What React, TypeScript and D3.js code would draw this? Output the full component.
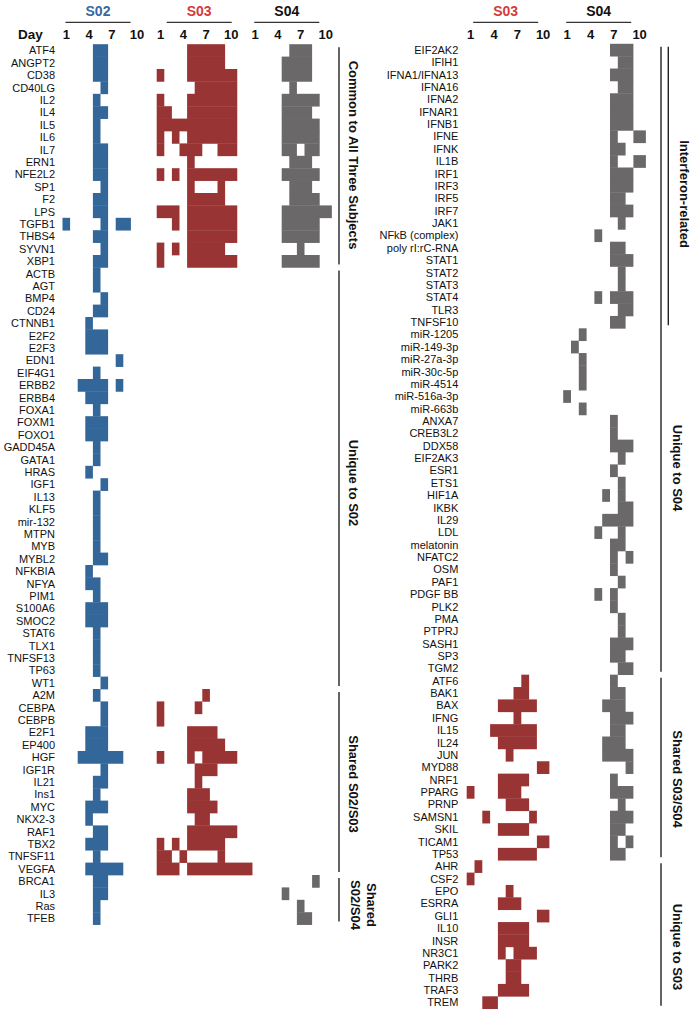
import React from "react";
import * as d3 from "d3";

// ---------------- DATA ----------------
const DAY_TICKS = [1, 4, 7, 10];

// Left panel groups
const COMMON_GENES = ["ATF4", "ANGPT2", "CD38", "CD40LG", "IL2", "IL4", "IL5", "IL6", "IL7", "ERN1", "NFE2L2", "SP1", "F2", "LPS", "TGFB1", "THBS4", "SYVN1", "XBP1"];
const COMMON_S02 = [[5, 6], [5, 6], [5, 6], [6], [5], [5, 6], [5], [5], [5, 6], [5, 6], [5, 6], [6], [5, 6], [5, 6], [1, 6, 8, 9], [5, 6], [6], [5, 6]];
const COMMON_S03 = [
  [5, 6, 7, 8, 9], [5, 6, 7, 8, 9], [1, 5, 6, 7, 8, 9, 10], [6, 7, 8, 9, 10], [1, 5, 6, 7, 8, 9, 10],
  [1, 2, 5, 6, 7, 8, 9, 10], [1, 2, 3, 4, 5, 6, 7, 8, 9, 10], [1, 3, 5, 6, 7, 8, 9, 10], [1, 4, 5, 6, 9, 10], [5],
  [1, 3, 5, 6, 7, 8, 9, 10], [5, 9], [5, 6, 7, 8, 9], [1, 2, 3, 5, 6, 7, 8, 9, 10], [3, 5, 6, 7, 8, 9, 10],
  [5, 6, 7, 8, 9, 10], [1, 3, 5, 6, 7, 8, 9], [1, 5, 6, 7, 8, 9, 10],
];
const COMMON_S04 = [
  [6, 7, 8], [5, 6, 7, 8], [5, 6, 7, 8], [6], [5, 6, 7, 8, 9], [5, 6, 7, 8], [5, 6, 7, 8, 9], [5, 6, 7, 8, 9], [5, 6, 8, 9],
  [6, 7, 8], [5, 6, 7, 8, 9], [6, 7, 8], [6, 7, 8, 9], [5, 6, 7, 8, 9, 10], [5, 6, 7, 8, 9], [5, 6, 7, 8, 9], [7], [5, 6, 7, 8, 9],
];

const UNIQUE_S02_GENES = ["ACTB", "AGT", "BMP4", "CD24", "CTNNB1", "E2F2", "E2F3", "EDN1", "EIF4G1", "ERBB2", "ERBB4", "FOXA1", "FOXM1", "FOXO1", "GADD45A", "GATA1", "HRAS", "IGF1", "IL13", "KLF5", "mir-132", "MTPN", "MYB", "MYBL2", "NFKBIA", "NFYA", "PIM1", "S100A6", "SMOC2", "STAT6", "TLX1", "TNFSF13", "TP63", "WT1"];
const UNIQUE_S02_S02 = [
  [5], [5], [6], [5, 6], [4], [4, 5, 6], [4, 5, 6], [8], [5], [3, 4, 5, 6, 8],
  [4, 5, 6], [5], [4, 5, 6], [4, 5, 6], [5], [5], [4], [6], [5], [5],
  [5], [5], [5], [5, 6], [4], [4, 5], [5], [4, 5, 6], [4, 5, 6], [5],
  [5], [5], [5], [6],
];

const SHARED_0203_GENES = ["A2M", "CEBPA", "CEBPB", "E2F1", "EP400", "HGF", "IGF1R", "IL21", "Ins1", "MYC", "NKX2-3", "RAF1", "TBX2", "TNFSF11", "VEGFA"];
const SHARED_0203_S02 = [[5], [6], [6], [4, 5, 6], [4, 5, 6], [3, 4, 5, 6, 7, 8], [6], [5, 6], [5], [4, 5, 6], [4], [5, 6], [4, 5, 6], [5], [4, 5, 6, 7, 8]];
const SHARED_0203_S03 = [[7], [1, 6], [1], [5, 6, 7, 8], [5, 6, 7, 8, 9], [1, 5, 7, 8, 9, 10], [6, 7, 8], [6], [5, 6, 7], [5, 6, 7, 8], [6, 7], [5, 6, 7, 8, 9, 10], [1, 3, 5, 6, 7, 8, 9], [1, 2, 4, 9], [1, 2, 3, 5, 6, 7, 8, 9, 10, 11]];

const SHARED_0204_GENES = ["BRCA1", "IL3", "Ras", "TFEB"];
const SHARED_0204_S02 = [[5, 6], [5, 6], [5], [5]];
const SHARED_0204_S04 = [[9], [5], [7], [7, 8]];

// Right panel groups
const INTERFERON_GENES = ["EIF2AK2", "IFIH1", "IFNA1/IFNA13", "IFNA16", "IFNA2", "IFNAR1", "IFNB1", "IFNE", "IFNK", "IL1B", "IRF1", "IRF3", "IRF5", "IRF7", "JAK1", "NFkB (complex)", "poly rI:rC-RNA", "STAT1", "STAT2", "STAT3", "STAT4", "TLR3", "TNFSF10"];
const INTERFERON_S04 = [[7, 8, 9], [8, 9], [7, 8, 9], [8, 9], [7, 8, 9], [7, 8, 9], [7, 8, 9], [7, 10], [7, 8], [7, 10], [7, 8, 9], [7, 8, 9], [7, 8], [7, 8, 9], [8], [5], [7, 8], [7, 8, 9], [8], [8], [5, 7, 8, 9], [8, 9], [7, 8]];

const UNIQUE_S04_GENES = ["miR-1205", "miR-149-3p", "miR-27a-3p", "miR-30c-5p", "miR-4514", "miR-516a-3p", "miR-663b", "ANXA7", "CREB3L2", "DDX58", "EIF2AK3", "ESR1", "ETS1", "HIF1A", "IKBK", "IL29", "LDL", "melatonin", "NFATC2", "OSM", "PAF1", "PDGF BB", "PLK2", "PMA", "PTPRJ", "SASH1", "SP3", "TGM2"];
const UNIQUE_S04_S04 = [[3], [2], [3], [3], [3], [1], [3], [7], [7], [7, 8, 9], [8], [7], [8], [6, 8], [8, 9], [6, 7, 8, 9], [5, 8], [7, 8], [7, 9], [7], [8], [5, 7], [7], [8], [8], [7, 8, 9], [7, 8], [8, 9]];

const SHARED_0304_GENES = ["ATF6", "BAK1", "BAX", "IFNG", "IL15", "IL24", "JUN", "MYD88", "NRF1", "PPARG", "PRNP", "SAMSN1", "SKIL", "TICAM1", "TP53"];
const SHARED_0304_S03 = [[8], [7, 8], [5, 6, 7, 8, 9], [7], [4, 5, 6, 7, 8, 9], [5, 6, 7, 8, 9], [6], [10], [5, 6, 7, 8], [1, 5, 6, 7], [6, 7, 8], [3, 9], [5, 6, 7, 8], [10], [5, 6, 7, 8, 9]];
const SHARED_0304_S04 = [[7], [7, 8], [6, 7, 8], [7, 8, 9], [7, 8], [6, 7, 8], [6, 7, 8, 9], [9], [7], [7, 8, 9], [8], [7, 8, 9], [7, 8], [7, 9], [7, 8]];

const UNIQUE_S03_GENES = ["AHR", "CSF2", "EPO", "ESRRA", "GLI1", "IL10", "INSR", "NR3C1", "PARK2", "THRB", "TRAF3", "TREM"];
const UNIQUE_S03_S03 = [[2], [1], [6], [5, 6, 7], [10], [5, 6, 7, 8], [5, 6, 7, 8], [5, 7, 8, 9], [6, 7], [6, 7], [5, 6, 7, 8], [3, 4]];

// ---------------- LAYOUT / STYLE ----------------
const FONT = '"Liberation Sans", Arial, Helvetica, sans-serif';
const CELL_COLORS: Record<string, string> = { S02: "#336699", S03: "#993434", S04: "#6b6869" };
const TITLE_COLORS: Record<string, string> = { S02: "#3569a5", S03: "#d43b3b", S04: "#111111" };

type Group = { key: string; genes: string[]; data: Record<string, number[][]> };

const LEFT_GROUPS: Group[] = [
  { key: "common", genes: COMMON_GENES, data: { S02: COMMON_S02, S03: COMMON_S03, S04: COMMON_S04 } },
  { key: "u02", genes: UNIQUE_S02_GENES, data: { S02: UNIQUE_S02_S02 } },
  { key: "s0203", genes: SHARED_0203_GENES, data: { S02: SHARED_0203_S02, S03: SHARED_0203_S03 } },
  { key: "s0204", genes: SHARED_0204_GENES, data: { S02: SHARED_0204_S02, S04: SHARED_0204_S04 } },
];
const RIGHT_GROUPS: Group[] = [
  { key: "ifn", genes: INTERFERON_GENES, data: { S04: INTERFERON_S04 } },
  { key: "u04", genes: UNIQUE_S04_GENES, data: { S04: UNIQUE_S04_S04 } },
  { key: "s0304", genes: SHARED_0304_GENES, data: { S03: SHARED_0304_S03, S04: SHARED_0304_S04 } },
  { key: "u03", genes: UNIQUE_S03_GENES, data: { S03: UNIQUE_S03_S03 } },
];

type SubjectCfg = { id: string; x0: number; w: number; lineDx: number };
type BracketCfg = { groups: string[]; x: number; lines: string[]; cx: number; cy: number };
type PanelCfg = {
  labelX: number; top: number; rowH: number; showDay: boolean;
  subjects: SubjectCfg[]; brackets: BracketCfg[];
};

const LEFT_PANEL: PanelCfg = {
  labelX: 55, top: 44.2, rowH: 12.4, showDay: true,
  subjects: [
    { id: "S02", x0: 62.5, w: 7.6, lineDx: 0 },
    { id: "S03", x0: 156.7, w: 7.6, lineDx: 7 },
    { id: "S04", x0: 251.3, w: 7.6, lineDx: 0 },
  ],
  brackets: [
    { groups: ["common"], x: 339, lines: ["Common to All Three Subjects"], cx: 353.5, cy: 155 },
    { groups: ["u02"], x: 339, lines: ["Unique to S02"], cx: 353.5, cy: 483 },
    { groups: ["s0203"], x: 339, lines: ["Shared S02/S03"], cx: 353.5, cy: 784 },
    { groups: ["s0204"], x: 339, lines: ["Shared", "S02/S04"], cx: 363.5, cy: 905 },
  ],
};
const RIGHT_PANEL: PanelCfg = {
  labelX: 458.3, top: 43.8, rowH: 12.37, showDay: false,
  subjects: [
    { id: "S03", x0: 466.7, w: 7.8, lineDx: 3.5 },
    { id: "S04", x0: 563.2, w: 7.8, lineDx: 0 },
  ],
  brackets: [
    { groups: ["ifn", "u04"], x: 661, lines: ["Unique to S04"], cx: 678, cy: 468 },
    { groups: ["ifn"], x: 668.3, lines: ["Interferon-related"], cx: 685, cy: 194 },
    { groups: ["s0304"], x: 661, lines: ["Shared S03/S04"], cx: 678, cy: 779 },
    { groups: ["u03"], x: 661, lines: ["Unique to S03"], cx: 678, cy: 947 },
  ],
};

// column extent in "day units": days 1-9 one unit wide, day 10 wider, extra late point wider still
function columnSpan(day: number): [number, number] {
  if (day <= 9) return [day - 0.5, day + 0.5];
  if (day === 10) return [9.5, 11.1];
  return [11.1, 13.1];
}

function toRuns(days: number[]): number[][] {
  const out: number[][] = [];
  let cur: number[] = [];
  [...days].sort((a, b) => a - b).forEach((d) => {
    if (cur.length && d === cur[cur.length - 1] + 1) cur.push(d);
    else {
      if (cur.length) out.push(cur);
      cur = [d];
    }
  });
  if (cur.length) out.push(cur);
  return out;
}

function Panel({ cfg, groups }: { cfg: PanelCfg; groups: Group[] }) {
  const rows: { gene: string; group: string; data: Record<string, number[]> }[] = [];
  groups.forEach((g) => {
    g.genes.forEach((gene, i) => {
      const data: Record<string, number[]> = {};
      Object.keys(g.data).forEach((s) => (data[s] = g.data[s][i]));
      rows.push({ gene, group: g.key, data });
    });
  });
  const n = rows.length;
  const y = d3.scaleBand<number>().domain(d3.range(n)).range([cfg.top, cfg.top + n * cfg.rowH]).paddingInner(0);
  const bh = y.bandwidth();

  const groupRange = (keys: string[]) => {
    const idx = rows.map((r, i) => (keys.includes(r.group) ? i : -1)).filter((i) => i >= 0);
    return [y(d3.min(idx)!)!, y(d3.max(idx)!)! + bh];
  };

  return (
    <g>
      {cfg.showDay && (
        <text x={18} y={39} fontFamily={FONT} fontWeight="bold" fontSize={13.5} fill="#111">Day</text>
      )}
      {cfg.subjects.map((s) => {
        const x = d3.scaleLinear().domain([0.5, 1.5]).range([s.x0, s.x0 + s.w]);
        const lx0 = s.x0 + 3 + s.lineDx;
        const lx1 = lx0 + 65;
        return (
          <g key={s.id}>
            <text x={(lx0 + lx1) / 2} y={16} textAnchor="middle" fontFamily={FONT} fontWeight="bold" fontSize={14} fill={TITLE_COLORS[s.id]}>{s.id}</text>
            <line x1={lx0} x2={lx1} y1={22.3} y2={22.3} stroke="#333" strokeWidth={1.3} />
            {DAY_TICKS.map((d) => {
              const [a, b] = columnSpan(d);
              return (
                <text key={d} x={(x(a) + x(b)) / 2} y={39} textAnchor="middle" fontFamily={FONT} fontWeight="bold" fontSize={13} fill="#111">{d}</text>
              );
            })}
            {rows.map((r, i) =>
              r.data[s.id]
                ? toRuns(r.data[s.id]).map((run, k) => {
                    const xa = x(columnSpan(run[0])[0]);
                    const xb = x(columnSpan(run[run.length - 1])[1]);
                    return (
                      <rect key={`${i}-${k}`} x={xa} y={y(i)!} width={xb - xa} height={bh + 0.35} fill={CELL_COLORS[s.id]} />
                    );
                  })
                : null
            )}
          </g>
        );
      })}
      {rows.map((r, i) => (
        <text key={r.gene} x={cfg.labelX} y={y(i)! + bh / 2 + 3.9} textAnchor="end" fontFamily={FONT} fontSize={11} fill="#111">{r.gene}</text>
      ))}
      {cfg.brackets.map((b, bi) => {
        const [y0, y1] = groupRange(b.groups);
        const capH = 9.4;
        const lh = 16;
        const nL = b.lines.length;
        return (
          <g key={bi}>
            <line x1={b.x} x2={b.x} y1={y0 + 3} y2={y1 - 3} stroke="#222" strokeWidth={1.4} />
            <text transform={`translate(${b.cx},${b.cy}) rotate(90)`} textAnchor="middle" fontFamily={FONT} fontWeight="bold" fontSize={13} fill="#111">
              {b.lines.map((t, li) => (
                <tspan key={li} x={0} y={capH / 2 - ((nL - 1) * lh) / 2 + li * lh}>{t}</tspan>
              ))}
            </text>
          </g>
        );
      })}
    </g>
  );
}

export default function App() {
  return (
    <svg width={695} height={1012} viewBox="0 0 695 1012" style={{ position: "absolute", left: 0, top: 0, background: "#fff" }}>
      <rect x={0} y={0} width={695} height={1012} fill="#fff" />
      <Panel cfg={LEFT_PANEL} groups={LEFT_GROUPS} />
      <Panel cfg={RIGHT_PANEL} groups={RIGHT_GROUPS} />
    </svg>
  );
}
